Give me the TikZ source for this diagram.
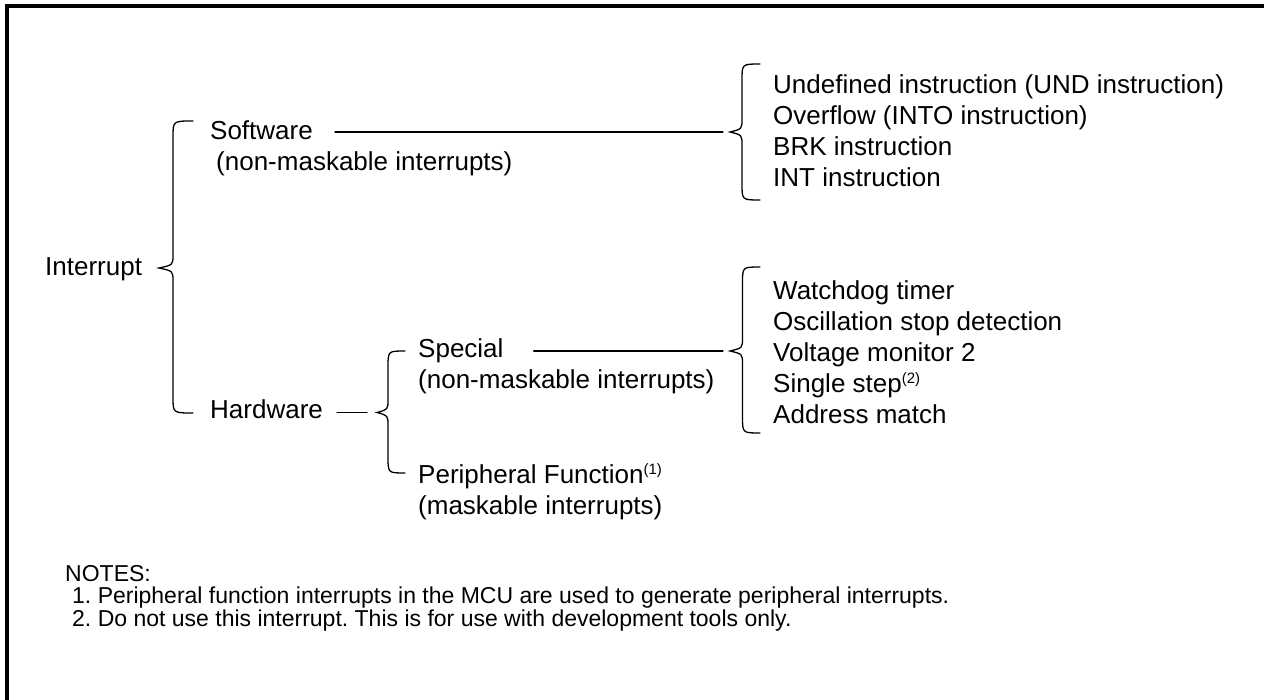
\documentclass[tikz,border=0pt]{standalone}
\usepackage{fontspec}
\setmainfont{Liberation Sans}
\frenchspacing
\newcommand\mybrace[6]{% #1 tip x, #2 tip y, #3 top y, #4 bottom y, #5 spine x, #6 hook end x
  \draw[conn] (#6,#3) .. controls (#5,#3) .. (#5,{#3+16}) -- (#5,{#2-13})
    .. controls (#5,{#2-3}) .. (#1,#2) .. controls (#5,{#2+3}) .. (#5,{#2+13})
    -- (#5,{#4-16}) .. controls (#5,#4) .. (#6,#4);}
\newcommand\supnote[1]{\raisebox{9pt}{\fontsize{15}{15}\selectfont(#1)}}
\begin{document}
\begin{tikzpicture}[x=1pt,y=-1pt,
  txt/.style={anchor=base west, inner sep=0pt, font=\fontsize{26}{31}\selectfont},
  note/.style={anchor=base west, inner sep=0pt, font=\fontsize{23}{23}\selectfont},
  conn/.style={line width=1.3pt, line cap=round},
  frame/.style={line width=3.5pt}]
\useasboundingbox (0,0) rectangle (1264,700);
\draw[frame] (1270,6) -- (7,6) -- (7,706);

% level 0
\node[txt] (intr) at (45,276) {Interrupt};
\coordinate (t1) at (159,268);
\mybrace{159}{268}{121}{413}{173}{193}

% software branch
\node[txt] (sw) at (210,140) {Software};
\node[txt] (swsub) at (216,171) {(non-maskable interrupts)};
\coordinate (t2) at (730,132);
\mybrace{730}{132}{64}{200}{742}{760}
\draw[conn] ([xshift=22pt]t2 -| sw.east) -- ([xshift=-7pt]t2);
\node[txt] (s1) at (773,94) {Undefined instruction (UND instruction)};
\node[txt] (s2) at (773,125) {Overflow (INTO instruction)};
\node[txt] (s3) at (773,156) {BRK instruction};
\node[txt] (s4) at (773,187) {INT instruction};

% hardware branch
\node[txt] (hw) at (210,419) {Hardware};
\coordinate (t3) at (377,412.5);
\mybrace{377}{412.5}{351}{473}{388}{405}
\draw[conn] ([xshift=14pt]t3 -| hw.east) -- ([xshift=-10pt]t3);

\node[txt] (sp) at (418,358) {Special};
\node[txt] (spsub) at (418,389) {(non-maskable interrupts)};
\coordinate (t4) at (730,351);
\mybrace{730}{351}{267}{433}{742.5}{760}
\draw[conn] ([xshift=30pt]t4 -| sp.east) -- ([xshift=-7pt]t4);
\node[txt] (h1) at (773,300) {Watchdog timer};
\node[txt] (h2) at (773,331) {Oscillation stop detection};
\node[txt] (h3) at (773,362) {Voltage monitor 2};
\node[txt] (h4) at (773,393) {Single step\supnote{2}};
\node[txt] (h5) at (773,424) {Address match};

\node[txt] (pf) at (418,483) {Peripheral Function\supnote{1}};
\node[txt] (pfsub) at (418,514) {(maskable interrupts)};

% notes
\node[note] (notes) at (65,581) {NOTES:};
\node[note] (n1) at (72,603) {1. Peripheral function interrupts in the MCU are used to generate peripheral interrupts.};
\node[note] (n2) at (72,626) {2. Do not use this interrupt. This is for use with development tools only.};
\end{tikzpicture}
\end{document}
